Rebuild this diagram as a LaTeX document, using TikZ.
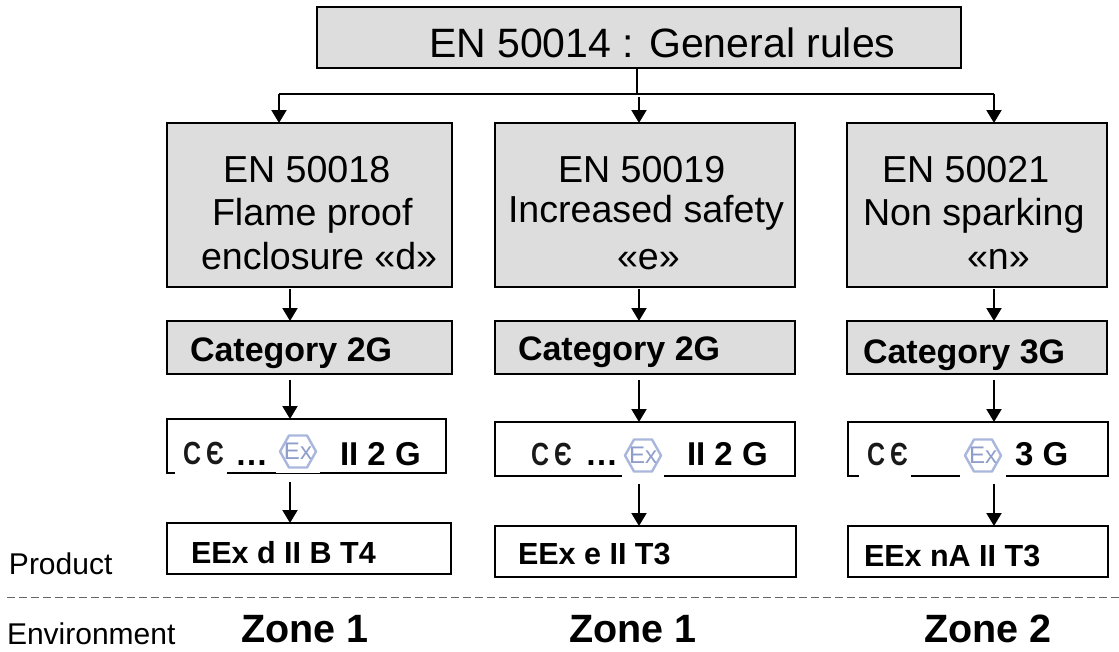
\documentclass[tikz,border=0pt]{standalone}
\usepackage{fontspec}
\usepackage{graphicx}
\setmainfont{Liberation Sans}
\usetikzlibrary{arrows.meta}
\definecolor{boxgray}{HTML}{DDDDDD}
\definecolor{exblue}{HTML}{A9B6DE}
\definecolor{exdark}{HTML}{8F9DCB}
\tikzset{
 x=1pt,y=-1pt,
 graybox/.style={draw=black,line width=2pt,fill=boxgray,inner sep=0pt,outer sep=0pt,anchor=north west},
 whitebox/.style={draw=black,line width=2pt,fill=white,inner sep=0pt,outer sep=0pt,anchor=north west},
 conn/.style={draw=black,line width=2pt,-{Triangle[length=13pt,width=15pt]}},
 plain/.style={draw=black,line width=2pt},
 txt/.style={inner sep=0pt,outer sep=0pt,anchor=base west},
 title/.style={txt,font=\fontsize{41}{46}\selectfont},
 big/.style={txt,font=\fontsize{37.6}{44}\selectfont},
 cat/.style={txt,font=\fontsize{34}{40}\selectfont\bfseries},
 marktext/.style={txt,font=\fontsize{33}{38}\selectfont\bfseries},
 prod/.style={txt,font=\fontsize{30.5}{36}\selectfont\bfseries},
 zone/.style={txt,font=\fontsize{39.5}{46}\selectfont\bfseries},
 side/.style={txt,font=\fontsize{30}{36}\selectfont},
 exhex/.style={draw=exblue,line width=2.4pt,fill=white,line join=round},
 sep/.style={draw=black!60,line width=1pt,dash pattern=on 8pt off 4pt},
}
\newcommand{\CEmark}[3]{% name, x, y(baseline)
 \node[txt,font=\fontsize{32}{36}\selectfont\bfseries,text=black!90] (#1) at (#2,#3) {\scalebox{0.78}[1]{C}\hspace{5pt}\scalebox{0.78}[1]{Є}};}
\newcommand{\Exmark}[4]{% name, x, y, white patch half-width
 \fill[white] (#2-#4,432) rectangle (#2+#4,#3+21.5);
 \draw[exhex] (#2-18,#3) -- (#2-9,#3-16) -- (#2+9,#3-16) -- (#2+18,#3) -- (#2+9,#3+16) -- (#2-9,#3+16) -- cycle;
 \node[inner sep=0pt,text=exdark,font=\fontsize{24}{26}\selectfont] (#1) at (#2,#3) {Ex};}
\begin{document}
\begin{tikzpicture}
\useasboundingbox (0,0) rectangle (1119,651);
% boxes
\node[graybox,minimum width=644pt,minimum height=61pt] (top) at (317,7) {};
\node[graybox,minimum width=285pt,minimum height=164pt] (a1) at (167,123) {};
\node[graybox,minimum width=300pt,minimum height=164pt] (b1) at (495,123) {};
\node[graybox,minimum width=260pt,minimum height=164pt] (c1) at (847,123) {};
\node[graybox,minimum width=285pt,minimum height=53pt] (a2) at (167,321) {};
\node[graybox,minimum width=300pt,minimum height=53pt] (b2) at (495,321) {};
\node[graybox,minimum width=260pt,minimum height=53pt] (c2) at (847,321) {};
\node[whitebox,minimum width=279pt,minimum height=54pt] (a3) at (167,419) {};
\node[whitebox,minimum width=300pt,minimum height=54pt] (b3) at (495,422) {};
\node[whitebox,minimum width=260pt,minimum height=54pt] (c3) at (848,422) {};
\node[whitebox,minimum width=284pt,minimum height=51pt] (a4) at (167,523) {};
\node[whitebox,minimum width=301pt,minimum height=51pt] (b4) at (495,526) {};
\node[whitebox,minimum width=260pt,minimum height=51pt] (c4) at (848,526) {};
% titles
\node[title] (tt) at (429,57) {EN 50014 : General rules};
\node[big] (a1a) at (223,182) {EN 50018};
\node[big] (a1b) at (212,225) {Flame proof};
\node[big] (a1c) at (201,269) {enclosure «d»};
\node[big] (b1a) at (558,182) {EN 50019};
\node[big] (b1b) at (508,222) {Increased safety};
\node[big] (b1c) at (617,269) {«e»};
\node[big] (c1a) at (882,182) {EN 50021};
\node[big] (c1b) at (863,225) {Non sparking};
\node[big] (c1c) at (967,269) {«n»};
\node[cat] (a2t) at (190,361) {Category 2G};
\node[cat] (b2t) at (518,360) {Category 2G};
\node[cat] (c2t) at (863,363) {Category 3G};
% connectors
\coordinate (ax) at (290,0);
\coordinate (bx) at (639,0);
\coordinate (cx) at (994,0);
\coordinate (tx) at (637,0);
\coordinate (lx) at (279,0);
\coordinate (hy) at (0,94);
\draw[plain] (tx |- top.south) -- (tx |- hy);
\draw[plain] (lx |- hy) -- (cx |- hy);
\draw[conn] (lx |- hy) -- (lx |- a1.north);
\draw[conn,shorten <=3pt] (bx |- hy) -- (bx |- b1.north);
\draw[conn] (cx |- hy) -- (cx |- c1.north);
\draw[conn,shorten <=2pt] (ax |- a1.south) -- (ax |- a2.north);
\draw[conn,shorten <=2pt] (bx |- b1.south) -- (bx |- b2.north);
\draw[conn,shorten <=2pt] (cx |- c1.south) -- (cx |- c2.north);
\draw[conn,shorten <=6pt] (ax |- a2.south) -- (ax |- a3.north);
\draw[conn,shorten <=6pt] (bx |- b2.south) -- (bx |- b3.north);
\draw[conn,shorten <=6pt] (cx |- c2.south) -- (cx |- c3.north);
\draw[conn,shorten <=9pt] (ax |- a3.south) -- (ax |- a4.north);
\draw[conn,shorten <=8pt] (bx |- b3.south) -- (bx |- b4.north);
\draw[conn,shorten <=8pt] (cx |- c3.south) -- (cx |- c4.north);
% marks
\fill[white] (175,436) rectangle (227,474.5);
\fill[white] (859,438) rectangle (911,477.5);
\CEmark{ce1}{183}{464}
\CEmark{ce2}{531}{465}
\CEmark{ce3}{867}{465}
\Exmark{ex1}{298}{451.5}{22}
\Exmark{ex2}{643}{455.5}{21}
\Exmark{ex3}{983}{455.5}{23}
\node[marktext] (d1) at (235,465) {…};
\node[marktext] (d2) at (585,465) {…};
\node[marktext] (g1) at (340,465) {II 2 G};
\node[marktext] (g2) at (687,465) {II 2 G};
\node[marktext] (g3) at (1015,465) {3 G};
% product codes
\node[prod] (p1) at (191,563) {EEx d II B T4};
\node[prod] (p2) at (518,564) {EEx e II T3};
\node[prod] (p3) at (864,566) {EEx nA II T3};
% separator
\coordinate (sl) at (7,597);
\coordinate (sr) at (1119,597);
\draw[sep] (sl) -- (sr);
\node[side] (sp) at (9,574) {Product};
\node[side] (se) at (7,644) {Environment};
\node[zone] (z1) at (241,642.5) {Zone 1};
\node[zone] (z2) at (569,642.5) {Zone 1};
\node[zone] (z3) at (924,642.5) {Zone 2};
\end{tikzpicture}
\end{document}
